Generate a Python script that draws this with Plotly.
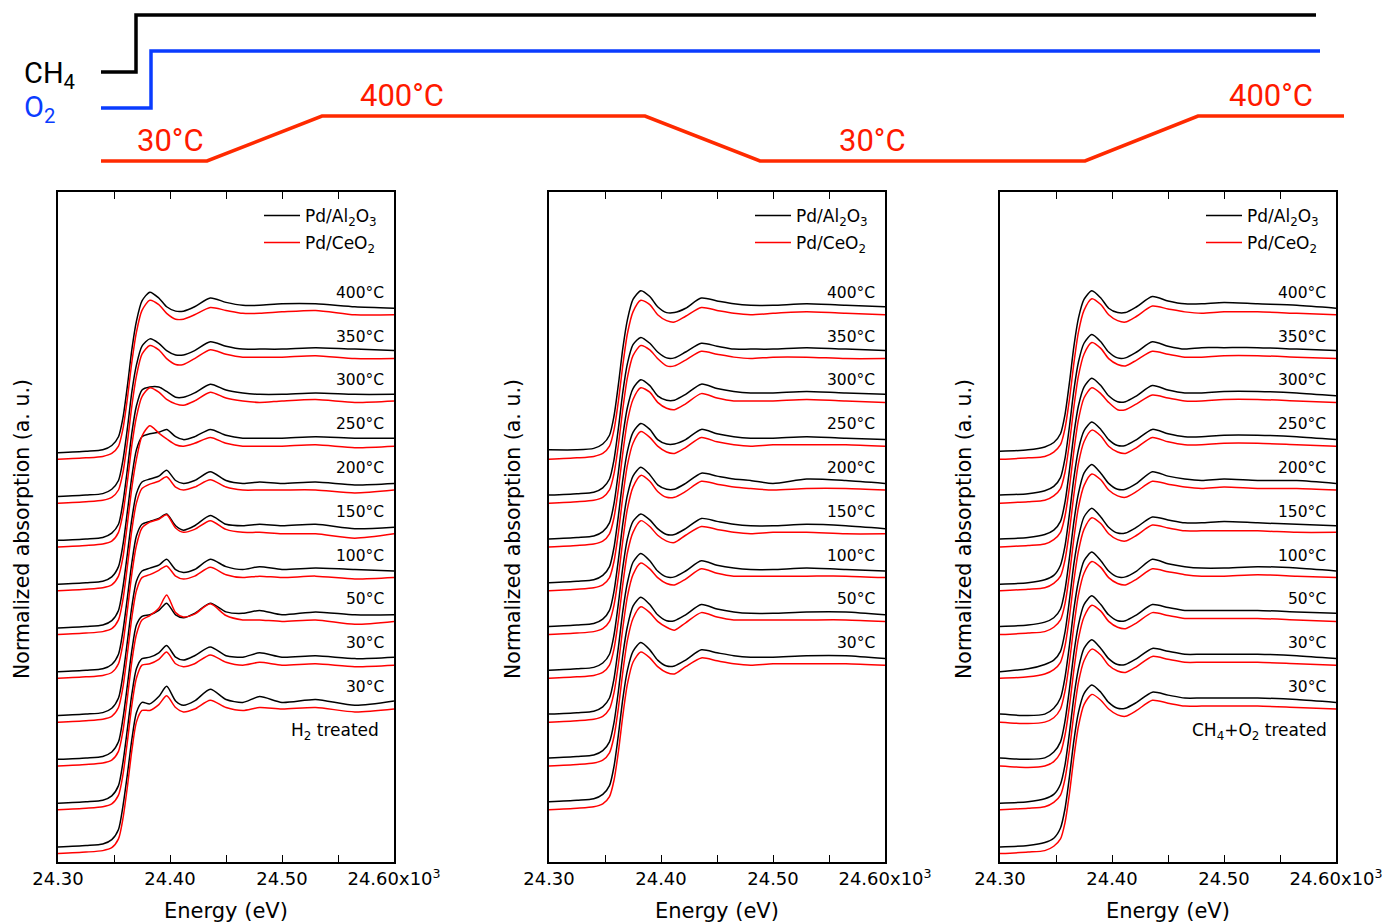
import plotly.graph_objects as go

# ---------------- data ----------------
ENERGY = [24.300, 24.325, 24.340, 24.348, 24.354, 24.358, 24.362, 24.366, 24.370, 24.375,
          24.382, 24.390, 24.397, 24.405, 24.412, 24.422, 24.436, 24.450, 24.465, 24.480,
          24.500, 24.530, 24.565, 24.600]

P1_TEMPS = ["400°C", "350°C", "300°C", "250°C", "200°C", "150°C", "100°C", "50°C", "30°C", "30°C"]
P1_AL = [
    [0.00, 0.01, 0.02, 0.05, 0.11, 0.24, 0.46, 0.71, 0.90, 1.04, 1.10, 1.06, 1.00, 0.97, 0.97, 1.00, 1.06, 1.03, 1.01, 1.01, 1.02, 1.02, 1.00, 0.99],
    [0.00, 0.01, 0.02, 0.05, 0.11, 0.25, 0.47, 0.72, 0.90, 1.03, 1.08, 1.05, 1.00, 0.97, 0.97, 1.00, 1.06, 1.03, 1.01, 1.01, 1.01, 1.02, 1.01, 1.00],
    [0.00, 0.01, 0.02, 0.05, 0.11, 0.26, 0.49, 0.74, 0.92, 1.03, 1.05, 1.05, 1.02, 0.98, 0.98, 1.01, 1.07, 1.03, 1.01, 1.00, 1.00, 1.01, 1.00, 1.00],
    [0.00, 0.01, 0.02, 0.05, 0.12, 0.27, 0.50, 0.74, 0.92, 1.01, 1.03, 1.04, 1.06, 1.01, 0.99, 1.01, 1.06, 1.02, 1.00, 1.00, 1.00, 1.01, 1.00, 1.00],
    [0.00, 0.01, 0.02, 0.05, 0.12, 0.28, 0.51, 0.75, 0.92, 1.00, 1.02, 1.04, 1.08, 1.01, 0.99, 1.01, 1.07, 1.01, 0.99, 1.00, 0.99, 1.00, 0.98, 0.99],
    [0.00, 0.01, 0.02, 0.05, 0.12, 0.28, 0.51, 0.75, 0.93, 1.01, 1.03, 1.05, 1.08, 1.00, 0.97, 1.00, 1.07, 1.01, 1.00, 1.01, 1.00, 1.01, 0.98, 0.99],
    [0.00, 0.01, 0.02, 0.05, 0.12, 0.28, 0.51, 0.75, 0.92, 0.99, 1.01, 1.03, 1.07, 1.00, 0.98, 1.00, 1.07, 1.02, 1.00, 1.02, 1.00, 1.01, 1.00, 0.99],
    [0.00, 0.01, 0.02, 0.05, 0.12, 0.28, 0.51, 0.75, 0.92, 0.98, 0.99, 1.02, 1.07, 0.99, 0.97, 1.00, 1.07, 1.01, 1.00, 1.02, 0.99, 1.01, 0.99, 0.99],
    [0.00, 0.01, 0.02, 0.05, 0.12, 0.28, 0.51, 0.75, 0.92, 0.99, 1.00, 1.03, 1.08, 1.00, 0.98, 1.01, 1.07, 1.01, 1.00, 1.03, 1.00, 1.01, 0.99, 1.00],
    [0.00, 0.01, 0.02, 0.05, 0.12, 0.28, 0.50, 0.74, 0.92, 0.99, 0.98, 1.03, 1.10, 1.00, 0.97, 1.00, 1.08, 1.01, 0.99, 1.03, 0.99, 1.01, 0.97, 1.00],
]
P1_CE = [
    [0.00, 0.01, 0.02, 0.04, 0.09, 0.21, 0.42, 0.67, 0.87, 1.02, 1.09, 1.06, 1.00, 0.96, 0.96, 0.99, 1.04, 1.02, 1.00, 1.00, 1.01, 1.02, 0.99, 0.99],
    [0.00, 0.01, 0.02, 0.04, 0.09, 0.21, 0.42, 0.67, 0.87, 1.02, 1.08, 1.05, 0.99, 0.95, 0.95, 0.99, 1.05, 1.02, 1.00, 1.00, 1.00, 1.01, 0.99, 0.99],
    [0.00, 0.01, 0.02, 0.04, 0.10, 0.23, 0.45, 0.70, 0.89, 1.03, 1.09, 1.06, 1.01, 0.98, 0.97, 1.00, 1.06, 1.02, 1.00, 0.99, 1.00, 1.01, 0.99, 1.00],
    [0.00, 0.01, 0.02, 0.04, 0.10, 0.23, 0.46, 0.71, 0.90, 1.06, 1.13, 1.08, 1.04, 1.00, 0.99, 1.01, 1.05, 1.01, 0.99, 0.99, 0.99, 1.00, 0.98, 0.99],
    [0.00, 0.01, 0.02, 0.04, 0.10, 0.24, 0.47, 0.72, 0.90, 1.00, 1.03, 1.05, 1.08, 1.01, 0.99, 1.01, 1.06, 1.01, 0.99, 0.99, 0.99, 0.99, 0.97, 0.99],
    [0.00, 0.01, 0.02, 0.04, 0.10, 0.24, 0.47, 0.72, 0.91, 1.03, 1.07, 1.09, 1.12, 1.03, 1.00, 1.02, 1.08, 1.02, 1.00, 1.00, 0.99, 0.99, 0.96, 0.99],
    [0.00, 0.01, 0.02, 0.04, 0.10, 0.24, 0.47, 0.72, 0.90, 0.99, 1.01, 1.04, 1.07, 1.00, 0.98, 1.00, 1.06, 1.01, 0.99, 1.00, 0.99, 1.00, 0.98, 0.99],
    [0.00, 0.01, 0.02, 0.04, 0.10, 0.24, 0.47, 0.72, 0.90, 1.00, 1.03, 1.08, 1.17, 1.05, 1.02, 1.04, 1.11, 1.03, 1.00, 1.00, 0.99, 1.00, 0.97, 0.99],
    [0.00, 0.01, 0.02, 0.04, 0.10, 0.24, 0.47, 0.72, 0.90, 0.99, 1.00, 1.03, 1.08, 1.00, 0.98, 1.00, 1.06, 1.01, 0.99, 1.01, 0.99, 1.00, 0.98, 0.99],
    [0.00, 0.01, 0.02, 0.04, 0.10, 0.24, 0.46, 0.71, 0.90, 0.98, 0.98, 1.02, 1.08, 1.00, 0.97, 0.99, 1.05, 1.00, 0.98, 1.00, 0.99, 1.00, 0.97, 0.99],
]

P2_TEMPS = ["400°C", "350°C", "300°C", "250°C", "200°C", "150°C", "100°C", "50°C", "30°C"]
P2_AL = [
    [0.02, 0.02, 0.03, 0.06, 0.12, 0.25, 0.47, 0.72, 0.91, 1.05, 1.11, 1.07, 1.00, 0.96, 0.96, 0.99, 1.06, 1.04, 1.02, 1.01, 1.01, 1.02, 1.01, 1.00],
    [0.01, 0.02, 0.03, 0.06, 0.12, 0.25, 0.47, 0.72, 0.91, 1.04, 1.09, 1.05, 0.99, 0.95, 0.95, 0.99, 1.05, 1.03, 1.01, 1.01, 1.01, 1.02, 1.01, 1.00],
    [0.01, 0.02, 0.03, 0.06, 0.12, 0.25, 0.47, 0.72, 0.91, 1.04, 1.10, 1.06, 0.99, 0.96, 0.96, 1.00, 1.07, 1.04, 1.02, 1.01, 1.01, 1.02, 1.01, 1.00],
    [0.01, 0.02, 0.03, 0.06, 0.12, 0.25, 0.47, 0.72, 0.91, 1.04, 1.10, 1.06, 0.99, 0.96, 0.96, 0.99, 1.06, 1.03, 1.01, 1.00, 1.00, 1.01, 1.00, 0.99],
    [0.01, 0.02, 0.03, 0.06, 0.12, 0.25, 0.47, 0.72, 0.91, 1.04, 1.10, 1.05, 0.98, 0.95, 0.95, 0.99, 1.06, 1.04, 1.02, 1.01, 0.99, 1.02, 1.01, 0.99],
    [0.01, 0.02, 0.03, 0.06, 0.12, 0.25, 0.47, 0.72, 0.91, 1.03, 1.08, 1.04, 0.98, 0.94, 0.94, 0.98, 1.05, 1.03, 1.01, 1.00, 1.00, 1.01, 1.00, 0.98],
    [0.01, 0.02, 0.03, 0.06, 0.12, 0.25, 0.47, 0.72, 0.91, 1.05, 1.11, 1.06, 0.99, 0.95, 0.95, 0.99, 1.06, 1.03, 1.01, 1.00, 1.00, 1.01, 1.00, 0.99],
    [0.01, 0.02, 0.03, 0.06, 0.12, 0.25, 0.47, 0.72, 0.91, 1.05, 1.11, 1.06, 0.99, 0.95, 0.95, 0.99, 1.06, 1.03, 1.01, 1.00, 1.00, 1.01, 1.01, 0.99],
    [0.01, 0.02, 0.03, 0.06, 0.12, 0.25, 0.47, 0.72, 0.91, 1.04, 1.10, 1.05, 0.98, 0.94, 0.94, 0.98, 1.05, 1.03, 1.01, 1.00, 1.00, 1.01, 1.01, 0.99],
]
P2_CE = [
    [0.00, 0.01, 0.02, 0.04, 0.09, 0.20, 0.40, 0.65, 0.86, 1.01, 1.09, 1.06, 0.99, 0.95, 0.94, 0.98, 1.04, 1.02, 1.00, 0.99, 1.00, 1.01, 1.00, 0.99],
    [0.00, 0.01, 0.02, 0.04, 0.09, 0.20, 0.40, 0.65, 0.86, 1.01, 1.08, 1.05, 0.99, 0.94, 0.94, 0.98, 1.04, 1.02, 1.00, 0.99, 1.00, 1.00, 0.99, 0.99],
    [0.00, 0.01, 0.02, 0.04, 0.09, 0.20, 0.40, 0.65, 0.86, 1.01, 1.09, 1.06, 0.99, 0.95, 0.94, 0.98, 1.05, 1.02, 1.00, 1.00, 1.00, 1.01, 1.00, 0.99],
    [0.00, 0.01, 0.02, 0.04, 0.09, 0.20, 0.40, 0.65, 0.86, 1.01, 1.09, 1.05, 0.99, 0.95, 0.94, 0.98, 1.05, 1.02, 1.00, 0.99, 1.00, 1.00, 1.00, 0.99],
    [0.00, 0.01, 0.02, 0.04, 0.09, 0.20, 0.40, 0.65, 0.86, 1.01, 1.09, 1.05, 0.98, 0.94, 0.94, 0.98, 1.05, 1.03, 1.01, 1.00, 0.99, 1.00, 1.00, 0.99],
    [0.00, 0.01, 0.02, 0.04, 0.09, 0.20, 0.40, 0.65, 0.86, 1.00, 1.08, 1.04, 0.98, 0.94, 0.93, 0.98, 1.04, 1.02, 1.00, 0.99, 1.00, 1.00, 0.99, 0.99],
    [0.00, 0.01, 0.02, 0.04, 0.09, 0.20, 0.40, 0.65, 0.86, 1.01, 1.09, 1.05, 0.99, 0.95, 0.94, 0.98, 1.05, 1.02, 1.00, 1.00, 1.00, 1.00, 1.00, 0.99],
    [0.00, 0.01, 0.02, 0.04, 0.09, 0.20, 0.40, 0.65, 0.86, 1.01, 1.09, 1.05, 0.99, 0.95, 0.93, 0.98, 1.05, 1.02, 1.00, 1.00, 1.00, 1.00, 1.00, 0.99],
    [0.00, 0.01, 0.02, 0.04, 0.09, 0.20, 0.40, 0.65, 0.86, 1.01, 1.08, 1.04, 0.98, 0.94, 0.93, 0.98, 1.04, 1.02, 1.00, 0.99, 1.00, 1.00, 1.00, 0.99],
]

P3_TEMPS = ["400°C", "350°C", "300°C", "250°C", "200°C", "150°C", "100°C", "50°C", "30°C", "30°C"]
P3_AL = [
    [0.01, 0.02, 0.04, 0.07, 0.13, 0.26, 0.48, 0.73, 0.92, 1.05, 1.11, 1.06, 0.99, 0.96, 0.96, 1.00, 1.07, 1.04, 1.02, 1.02, 1.03, 1.02, 1.01, 0.99],
    [0.01, 0.02, 0.04, 0.07, 0.13, 0.26, 0.48, 0.73, 0.92, 1.05, 1.11, 1.06, 0.99, 0.95, 0.95, 0.99, 1.06, 1.03, 1.01, 1.02, 1.02, 1.02, 1.01, 1.00],
    [0.01, 0.02, 0.04, 0.07, 0.13, 0.26, 0.48, 0.73, 0.92, 1.05, 1.11, 1.06, 0.99, 0.95, 0.95, 0.99, 1.06, 1.03, 1.01, 1.01, 1.02, 1.02, 1.01, 0.99],
    [0.00, 0.01, 0.03, 0.06, 0.13, 0.26, 0.48, 0.73, 0.92, 1.05, 1.11, 1.06, 0.99, 0.95, 0.95, 0.99, 1.06, 1.03, 1.01, 1.01, 1.02, 1.02, 1.01, 0.99],
    [0.01, 0.02, 0.04, 0.07, 0.13, 0.26, 0.48, 0.73, 0.92, 1.06, 1.12, 1.06, 0.99, 0.95, 0.95, 0.99, 1.07, 1.04, 1.02, 1.01, 1.02, 1.01, 1.01, 0.99],
    [0.00, 0.02, 0.05, 0.08, 0.14, 0.27, 0.49, 0.74, 0.92, 1.06, 1.12, 1.06, 0.99, 0.95, 0.95, 0.99, 1.06, 1.04, 1.02, 1.02, 1.03, 1.02, 1.01, 1.00],
    [0.01, 0.00, 0.01, 0.05, 0.12, 0.26, 0.48, 0.73, 0.92, 1.06, 1.12, 1.06, 0.99, 0.95, 0.95, 0.99, 1.07, 1.04, 1.02, 1.01, 1.01, 1.02, 1.01, 0.99],
    [0.01, 0.00, 0.01, 0.05, 0.12, 0.26, 0.48, 0.73, 0.92, 1.06, 1.12, 1.06, 0.99, 0.95, 0.95, 0.99, 1.06, 1.04, 1.02, 1.02, 1.02, 1.02, 1.01, 1.00],
    [0.00, 0.01, 0.03, 0.06, 0.13, 0.26, 0.48, 0.73, 0.92, 1.06, 1.12, 1.06, 0.99, 0.95, 0.95, 0.99, 1.06, 1.04, 1.02, 1.02, 1.02, 1.02, 1.01, 0.99],
    [0.00, 0.01, 0.03, 0.06, 0.13, 0.26, 0.48, 0.73, 0.92, 1.05, 1.11, 1.06, 0.99, 0.95, 0.95, 0.99, 1.06, 1.04, 1.02, 1.02, 1.02, 1.02, 1.01, 0.99],
]
P3_CE = [
    [0.00, 0.01, 0.02, 0.05, 0.10, 0.21, 0.41, 0.66, 0.87, 1.02, 1.10, 1.06, 0.99, 0.95, 0.94, 0.98, 1.05, 1.03, 1.01, 1.00, 1.01, 1.01, 1.00, 0.99],
    [0.00, 0.01, 0.02, 0.05, 0.10, 0.21, 0.41, 0.66, 0.87, 1.02, 1.10, 1.06, 0.99, 0.95, 0.94, 0.98, 1.04, 1.02, 1.00, 1.00, 1.01, 1.01, 1.00, 0.99],
    [0.00, 0.01, 0.02, 0.05, 0.10, 0.21, 0.41, 0.66, 0.87, 1.02, 1.09, 1.05, 0.99, 0.94, 0.94, 0.98, 1.04, 1.02, 1.00, 1.00, 1.01, 1.01, 1.00, 0.99],
    [0.00, 0.01, 0.02, 0.05, 0.10, 0.21, 0.41, 0.66, 0.87, 1.02, 1.10, 1.06, 0.99, 0.95, 0.94, 0.98, 1.05, 1.02, 1.00, 1.00, 1.01, 1.01, 1.00, 0.99],
    [0.00, 0.01, 0.02, 0.05, 0.10, 0.21, 0.41, 0.66, 0.87, 1.02, 1.10, 1.06, 0.99, 0.95, 0.94, 0.98, 1.05, 1.03, 1.01, 1.00, 1.01, 1.00, 1.00, 0.99],
    [0.00, 0.01, 0.03, 0.06, 0.11, 0.22, 0.42, 0.67, 0.87, 1.02, 1.10, 1.06, 0.99, 0.95, 0.94, 0.98, 1.05, 1.03, 1.01, 1.01, 1.01, 1.01, 1.00, 1.00],
    [0.00, -0.01, 0.00, 0.03, 0.09, 0.21, 0.41, 0.66, 0.87, 1.02, 1.10, 1.06, 0.99, 0.95, 0.94, 0.98, 1.05, 1.03, 1.01, 1.00, 1.00, 1.01, 1.00, 0.99],
    [0.00, -0.01, 0.00, 0.03, 0.09, 0.21, 0.41, 0.66, 0.87, 1.02, 1.10, 1.06, 0.99, 0.95, 0.94, 0.98, 1.05, 1.03, 1.01, 1.01, 1.01, 1.01, 1.00, 0.99],
    [0.00, 0.01, 0.02, 0.05, 0.10, 0.21, 0.41, 0.66, 0.87, 1.02, 1.10, 1.06, 0.99, 0.95, 0.94, 0.98, 1.05, 1.03, 1.01, 1.01, 1.01, 1.01, 1.00, 0.99],
    [0.00, 0.01, 0.02, 0.05, 0.10, 0.21, 0.41, 0.66, 0.87, 1.02, 1.09, 1.05, 0.99, 0.95, 0.94, 0.98, 1.05, 1.03, 1.01, 1.01, 1.01, 1.01, 1.00, 0.99],
]
PANEL_NOTES = ["H<sub>2</sub> treated", "", "CH<sub>4</sub>+O<sub>2</sub> treated"]
SERIES_NAMES = ["Pd/Al<sub>2</sub>O<sub>3</sub>", "Pd/CeO<sub>2</sub>"]

X_TICKS = [24.30, 24.40, 24.50, 24.60]
X_TICK_TEXT = ["24.30", "24.40", "24.50", "24.60x10<sup>3</sup>"]
X_MINOR_TICKS = [24.35, 24.45, 24.55]

# reaction program schematic (arbitrary time units)
CH4_TIME = [0.0, 0.35, 0.35, 12.15]
CH4_ON = [0, 0, 1, 1]
O2_TIME = [0.0, 0.50, 0.50, 12.19]
O2_ON = [0, 0, 1, 1]
RAMP_TIME = [0.0, 1.06, 2.21, 5.44, 6.59, 9.84, 10.97, 12.43]
RAMP_TEMP = [30, 30, 400, 400, 30, 30, 400, 400]
RAMP_LABELS = [("30°C", 0.69, 30), ("400°C", 3.01, 400), ("30°C", 7.71, 30), ("400°C", 11.70, 400)]

# ---------------- styling / layout constants ----------------
W, H = 1385, 924
FONT = "DejaVu Sans"
STEP = 0.3          # vertical offset between successive spectra
RED_SHIFT = -0.045  # Pd/CeO2 drawn slightly below Pd/Al2O3
BLACK = "#000000"
RED = "#ff0000"
PANEL_LEFT = [58, 549, 1000]
PANEL_W = 336
PANEL_TOP, PANEL_BOT = 192, 862
BASE_INDEX = [0, 1, 0]
LEG_X = [259, 750, 1201]
LEG_ROWS = [216, 243]


def fx(p):
    return p / W


def fy(p):
    return 1 - p / H


fig = go.Figure()
annotations = []
panels = [(P1_TEMPS, P1_AL, P1_CE), (P2_TEMPS, P2_AL, P2_CE), (P3_TEMPS, P3_AL, P3_CE)]

for pi, (temps, al, ce) in enumerate(panels):
    xa = "x" if pi == 0 else f"x{pi + 1}"
    ya = "y" if pi == 0 else f"y{pi + 1}"
    n = len(temps)
    leg_al = "legend" if pi == 0 else f"legend{2 * pi + 1}"
    leg_ce = f"legend{2 * pi + 2}"
    for i in range(n):
        off = (BASE_INDEX[pi] + n - 1 - i) * STEP
        fig.add_trace(go.Scatter(
            x=ENERGY, y=[v + off for v in al[i]], mode="lines",
            line=dict(color=BLACK, width=1.5, shape="spline", smoothing=0.7),
            name=SERIES_NAMES[0], showlegend=(i == 0), legend=leg_al,
            xaxis=xa, yaxis=ya, hoverinfo="skip"))
        fig.add_trace(go.Scatter(
            x=ENERGY, y=[v + off + RED_SHIFT for v in ce[i]], mode="lines",
            line=dict(color=RED, width=1.5, shape="spline", smoothing=0.7),
            name=SERIES_NAMES[1], showlegend=(i == 0), legend=leg_ce,
            xaxis=xa, yaxis=ya, hoverinfo="skip"))
        annotations.append(dict(
            x=24.593, y=off + 1.095, xref=xa, yref=ya, text=temps[i],
            showarrow=False, xanchor="right", yanchor="middle",
            font=dict(family=FONT, size=15.5, color="black")))
    if PANEL_NOTES[pi]:
        annotations.append(dict(
            x=24.588 if pi == 0 else 24.594, y=0.79, xref=xa, yref=ya, text=PANEL_NOTES[pi],
            showarrow=False, xanchor="right", yanchor="middle",
            font=dict(family=FONT, size=17, color="black")))
    # axis titles
    cx = PANEL_LEFT[pi] + PANEL_W / 2
    annotations.append(dict(
        x=fx(cx), y=fy(911), xref="paper", yref="paper", text="Energy (eV)",
        showarrow=False, xanchor="center", yanchor="middle",
        font=dict(family=FONT, size=21, color="black")))
    annotations.append(dict(
        x=fx(PANEL_LEFT[pi] - 36), y=fy(529), xref="paper", yref="paper",
        text="Normalized absorption (a. u.)", textangle=-90,
        showarrow=False, xanchor="center", yanchor="middle",
        font=dict(family=FONT, size=20.5, color="black")))

    xdom = [fx(PANEL_LEFT[pi]), fx(PANEL_LEFT[pi] + PANEL_W)]
    ydom = [fy(PANEL_BOT), fy(PANEL_TOP)]
    xkey = "xaxis" if pi == 0 else f"xaxis{pi + 1}"
    ykey = "yaxis" if pi == 0 else f"yaxis{pi + 1}"
    fig.update_layout(**{
        xkey: dict(domain=xdom, anchor=ya, range=[24.30, 24.60],
                   tickvals=X_TICKS, ticktext=X_TICK_TEXT, ticks="inside",
                   ticklen=7, tickwidth=1.2, tickcolor="black",
                   minor=dict(tickvals=X_MINOR_TICKS, ticks="inside", ticklen=7,
                              tickwidth=1.2, tickcolor="black", showgrid=False),
                   showline=True, linecolor="black", linewidth=1.5, mirror="ticks",
                   showgrid=False, zeroline=False, ticklabelstandoff=0, automargin=False,
                   tickfont=dict(family=FONT, size=18, color="black")),
        ykey: dict(domain=ydom, anchor=xa, range=[-0.103, 4.486], automargin=False,
                   showticklabels=False, ticks="", showgrid=False, zeroline=False,
                   showline=True, linecolor="black", linewidth=1.5, mirror=True),
    })
    for j, leg in enumerate([leg_al, leg_ce]):
        fig.update_layout(**{leg: dict(
            x=fx(LEG_X[pi]), y=fy(LEG_ROWS[j]), xanchor="left", yanchor="middle",
            bgcolor="rgba(0,0,0,0)", borderwidth=0, itemwidth=36,
            font=dict(family=FONT, size=17, color="black"))})

# ---------------- schematic ----------------
SCH_X = "x4"
SCH_Y = "y4"
CH4_BASE, O2_BASE, GAS_STEP = 1.98, 1.18, 1.265
ramp_level = [(t - 30) / 370 for t in RAMP_TEMP]
fig.add_trace(go.Scatter(x=CH4_TIME, y=[CH4_BASE + s * GAS_STEP for s in CH4_ON], mode="lines",
                         line=dict(color="#000000", width=3.5), showlegend=False,
                         xaxis=SCH_X, yaxis=SCH_Y, hoverinfo="skip"))
fig.add_trace(go.Scatter(x=O2_TIME, y=[O2_BASE + s * GAS_STEP for s in O2_ON], mode="lines",
                         line=dict(color="#0a3cff", width=3.5), showlegend=False,
                         xaxis=SCH_X, yaxis=SCH_Y, hoverinfo="skip"))
fig.add_trace(go.Scatter(x=RAMP_TIME, y=ramp_level, mode="lines",
                         line=dict(color="#ff2a00", width=3.5), showlegend=False,
                         xaxis=SCH_X, yaxis=SCH_Y, hoverinfo="skip"))
for txt, t, temp in RAMP_LABELS:
    annotations.append(dict(x=t, y=(temp - 30) / 370 + 0.45, xref=SCH_X, yref=SCH_Y, text=txt,
                            showarrow=False, xanchor="center", yanchor="middle",
                            font=dict(family="Roboto", size=31, color="#ff1a00")))
annotations.append(dict(x=-0.79, y=CH4_BASE - 0.06, xref=SCH_X, yref=SCH_Y, text="CH<sub>4</sub>",
                        showarrow=False, xanchor="left", yanchor="middle",
                        font=dict(family="Roboto", size=29, color="black")))
annotations.append(dict(x=-0.79, y=O2_BASE - 0.02, xref=SCH_X, yref=SCH_Y, text="O<sub>2</sub>",
                        showarrow=False, xanchor="left", yanchor="middle",
                        font=dict(family="Roboto", size=29, color="#0a3cff")))

fig.update_layout(
    xaxis4=dict(domain=[0, 1], anchor=SCH_Y, range=[-1.01, 12.84], visible=False),
    yaxis4=dict(domain=[fy(180), 1], anchor=SCH_X, range=[-0.4222, 3.5778], visible=False),
    width=W, height=H, margin=dict(l=0, r=0, t=0, b=0, autoexpand=False),
    paper_bgcolor="white", plot_bgcolor="rgba(0,0,0,0)",
    annotations=annotations, hovermode=False,
)

fig.write_html("out.html", config={"displayModeBar": False},
               post_script="document.body.style.margin='0';")
